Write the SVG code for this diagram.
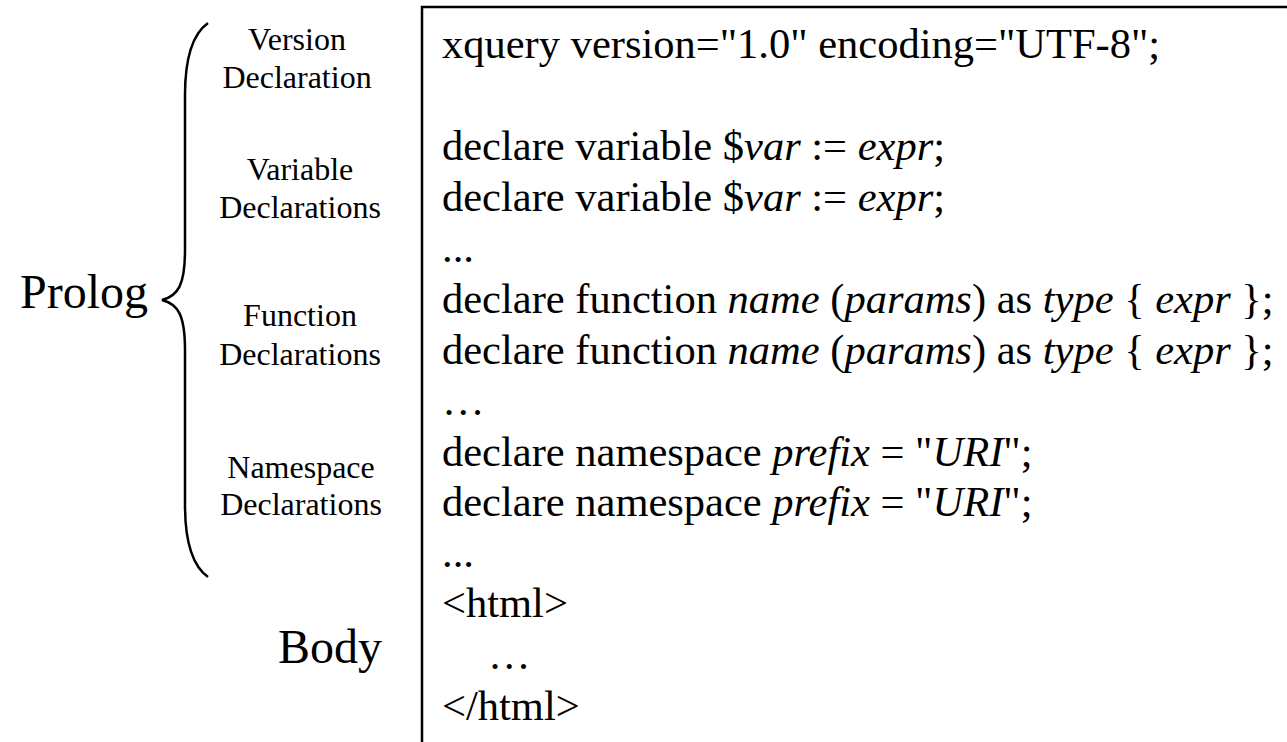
<svg xmlns="http://www.w3.org/2000/svg" width="1287" height="742" viewBox="0 0 1287 742">
  <style>
    text { font-family: "Liberation Serif", "Times New Roman", serif; fill: #000; }
    .code { font-size: 42.5px; }
    .i { font-style: italic; }
    .part { font-size: 32px; text-anchor: middle; }
    .big { font-size: 48px; }
    .line { fill: none; stroke: #000; stroke-width: 2.5; }
  </style>
  <rect width="1287" height="742" fill="#fff"/>

  <!-- Prolog label and its curly brace -->
  <g id="prolog">
    <text class="big" x="20" y="308">Prolog</text>
    <path class="line" d="M208,23 C194,33 185,55 185,95 L185,250 C185,285 178,296 162,300 C178,304 185,315 185,350 L185,505 C185,545 194,567 208,577"/>
  </g>

  <!-- Prolog parts -->
  <g id="version-decl">
    <text class="part" x="297" y="50">Version</text>
    <text class="part" x="297" y="88">Declaration</text>
  </g>
  <g id="variable-decls">
    <text class="part" x="300" y="180">Variable</text>
    <text class="part" x="300" y="218">Declarations</text>
  </g>
  <g id="function-decls">
    <text class="part" x="300" y="326">Function</text>
    <text class="part" x="300" y="365">Declarations</text>
  </g>
  <g id="namespace-decls">
    <text class="part" x="301" y="478">Namespace</text>
    <text class="part" x="301" y="515">Declarations</text>
  </g>

  <g id="body">
    <text class="big" x="382" y="663" text-anchor="end">Body</text>
  </g>

  <!-- Query listing -->
  <g id="listing">
    <rect class="line" x="422" y="7" width="900" height="800"/>
    <g class="code">
      <text x="442" y="58">xquery version="1.0" encoding="UTF-8";</text>
      <text x="442" y="160">declare variable $<tspan class="i">var</tspan> := <tspan class="i">expr</tspan>;</text>
      <text x="442" y="211">declare variable $<tspan class="i">var</tspan> := <tspan class="i">expr</tspan>;</text>
      <text x="442" y="262">...</text>
      <text x="442" y="313">declare function <tspan class="i">name</tspan> (<tspan class="i">params</tspan>) as <tspan class="i">type</tspan> {  <tspan class="i">expr</tspan> };</text>
      <text x="442" y="364">declare function <tspan class="i">name</tspan> (<tspan class="i">params</tspan>) as <tspan class="i">type</tspan> {  <tspan class="i">expr</tspan> };</text>
      <text x="442" y="415">…</text>
      <text x="442" y="466">declare namespace <tspan class="i">prefix</tspan> = "<tspan class="i">URI</tspan>";</text>
      <text x="442" y="516">declare namespace <tspan class="i">prefix</tspan> = "<tspan class="i">URI</tspan>";</text>
      <text x="442" y="567">...</text>
      <text x="442" y="617">&lt;html&gt;</text>
      <text x="488" y="669">…</text>
      <text x="442" y="720">&lt;/html&gt;</text>
    </g>
  </g>
</svg>
